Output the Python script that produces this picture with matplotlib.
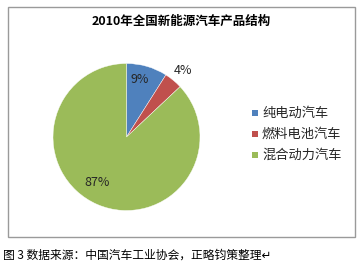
import matplotlib
matplotlib.use("Agg")
import matplotlib.pyplot as plt
from matplotlib.patches import Rectangle

plt.rcParams['font.family'] = ['Noto Sans CJK SC', 'DejaVu Sans']

title = "2010年全国新能源汽车产品结构"
categories = ["纯电动汽车", "燃料电池汽车", "混合动力汽车"]
values = [9, 4, 87]
labels = ["9%", "4%", "87%"]
colors = ["#4F81BD", "#C0504D", "#9BBB59"]
caption = "图 3 数据来源：中国汽车工业协会，正略钧策整理↵"

W, H = 359, 263
fig = plt.figure(figsize=(W/100, H/100), dpi=100)
fig.patch.set_facecolor("white")

# border box
fig.patches.append(Rectangle((7.5/W, 1-236.5/H), (354.5-7.5)/W, (236.5-7)/H,
                             transform=fig.transFigure, fill=False,
                             edgecolor="#9A9A9A", linewidth=1.0))

# pie axes
cx, cy, r = 126.5, 137, 73.5
ax = fig.add_axes([(cx-r)/W, 1-(cy+r)/H, 2*r/W, 2*r/H])
wedges, _ = ax.pie(values, colors=colors, startangle=90, counterclock=False,
                   wedgeprops=dict(edgecolor="white", linewidth=0.3))
ax.set_aspect("auto")
ax.set_xlim(-1, 1); ax.set_ylim(-1, 1)
ax.axis("off")

# percentage labels
pos = [(140, 80), (183, 70), (97, 183)]
for (x, y), lab in zip(pos, labels):
    fig.text(x/W, 1-y/H, lab, ha="center", va="center", fontsize=9,
             color="#262626")

fig.text(181/W, 1-21/H, title, ha="center", va="center", fontsize=9,
         fontweight="bold", color="#000000")

# legend
ly = [113, 134, 155]
for y, c, name in zip(ly, colors, categories):
    fig.patches.append(Rectangle((252/W, 1-(y+3)/H), 6/W, 6/H,
                                 transform=fig.transFigure, facecolor=c,
                                 edgecolor="none"))
    fig.text(262/W, 1-y/H, name, ha="left", va="center", fontsize=9.5,
             color="#262626")

fig.text(3/W, 1-255/H, caption, ha="left", va="center", fontsize=8.5,
         color="#000000")

fig.savefig("out.png", dpi=100, facecolor="white")
